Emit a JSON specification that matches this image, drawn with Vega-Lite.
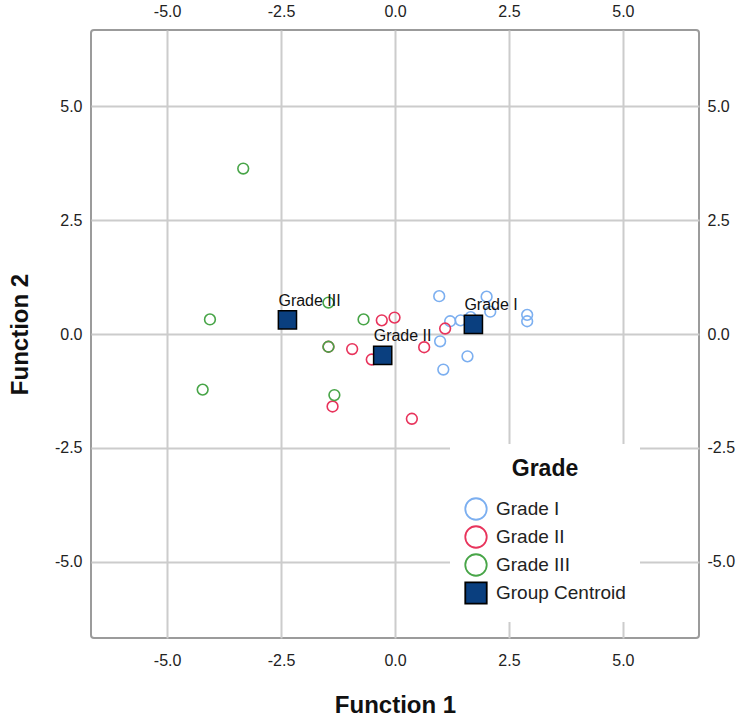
{
  "$schema": "https://vega.github.io/schema/vega-lite/v6.json",
  "width": 608,
  "height": 608,
  "autosize": {"type": "none"},
  "padding": {"left": 91, "top": 30, "right": 40, "bottom": 81},
  "background": "white",
  "config": {
    "view": {"stroke": "#9b9b9b", "strokeWidth": 2, "cornerRadius": 3},
    "font": "Liberation Sans",
    "axis": {
      "labelFont": "Liberation Sans",
      "labelFontSize": 16,
      "labelColor": "#222222",
      "labelExpr": "replace(datum.label, '\u2212', '-')",
      "ticks": false,
      "domain": false,
      "gridColor": "#cccccc",
      "gridWidth": 2,
      "titleFont": "Liberation Sans",
      "titleFontSize": 24,
      "titleFontWeight": "bold",
      "titleColor": "#111111"
    },
    "legend": {
      "symbolSize": 460,
      "symbolStrokeWidth": 1.8,
      "labelFont": "Liberation Sans",
      "labelFontSize": 19,
      "labelColor": "#222222",
      "labelOffset": 8,
      "titleFont": "Liberation Sans",
      "titleFontSize": 23,
      "titleFontWeight": "bold",
      "titleColor": "#111111",
      "titleAnchor": "middle",
      "titlePadding": 16,
      "rowPadding": -2,
      "padding": 14,
      "fillColor": "white",
      "strokeColor": null
    }
  },
  "datasets": {
    "obs": [
      {"f1": 0.97, "f2": 0.83, "series": "Grade I"},
      {"f1": 1.21, "f2": 0.28, "series": "Grade I"},
      {"f1": 1.44, "f2": 0.30, "series": "Grade I"},
      {"f1": 1.66, "f2": 0.37, "series": "Grade I"},
      {"f1": 2.01, "f2": 0.82, "series": "Grade I"},
      {"f1": 2.09, "f2": 0.49, "series": "Grade I"},
      {"f1": 2.90, "f2": 0.42, "series": "Grade I"},
      {"f1": 2.90, "f2": 0.28, "series": "Grade I"},
      {"f1": 0.99, "f2": -0.16, "series": "Grade I"},
      {"f1": 1.59, "f2": -0.49, "series": "Grade I"},
      {"f1": 1.06, "f2": -0.78, "series": "Grade I"},
      {"f1": -0.29, "f2": 0.30, "series": "Grade II"},
      {"f1": -0.01, "f2": 0.36, "series": "Grade II"},
      {"f1": -0.94, "f2": -0.33, "series": "Grade II"},
      {"f1": -0.51, "f2": -0.56, "series": "Grade II"},
      {"f1": 0.64, "f2": -0.29, "series": "Grade II"},
      {"f1": 1.10, "f2": 0.12, "series": "Grade II"},
      {"f1": -1.37, "f2": -1.59, "series": "Grade II"},
      {"f1": 0.37, "f2": -1.86, "series": "Grade II"},
      {"f1": -1.46, "f2": -0.28, "series": "Grade II"},
      {"f1": -3.33, "f2": 3.63, "series": "Grade III"},
      {"f1": -4.06, "f2": 0.32, "series": "Grade III"},
      {"f1": -1.46, "f2": 0.69, "series": "Grade III"},
      {"f1": -0.69, "f2": 0.32, "series": "Grade III"},
      {"f1": -4.22, "f2": -1.22, "series": "Grade III"},
      {"f1": -1.33, "f2": -1.34, "series": "Grade III"},
      {"f1": -1.46, "f2": -0.28, "series": "Grade III"}
    ],
    "cent": [
      {"f1": 1.72, "f2": 0.21, "series": "Group Centroid", "label": "Grade I"},
      {"f1": -0.27, "f2": -0.47, "series": "Group Centroid", "label": "Grade II"},
      {"f1": -2.36, "f2": 0.31, "series": "Group Centroid", "label": "Grade III"}
    ]
  },
  "layer": [
    {
      "data": {"name": "obs"},
      "mark": {"type": "point", "size": 115, "strokeWidth": 1.6, "opacity": 1},
      "encoding": {
        "x": {"field": "f1", "type": "quantitative",
          "scale": {"domain": [-6.67, 6.67], "nice": false, "zero": false},
          "axis": {"orient": "bottom", "values": [-5, -2.5, 0, 2.5, 5], "format": ".1f", "title": "Function 1", "labelPadding": 14, "titlePadding": 25, "grid": true}},
        "y": {"field": "f2", "type": "quantitative",
          "scale": {"domain": [-6.67, 6.67], "nice": false, "zero": false},
          "axis": {"orient": "left", "values": [-5, -2.5, 0, 2.5, 5], "format": ".1f", "title": "Function 2", "labelPadding": 9, "titlePadding": 22, "grid": true}},
        "stroke": {"field": "series", "type": "nominal",
          "scale": {"domain": ["Grade I", "Grade II", "Grade III", "Group Centroid"], "range": ["#7CAFF0", "#E8345C", "#48A548", "#000000"]},
          "legend": {"title": "Grade", "orient": "none", "legendX": 359, "legendY": 414}},
        "fill": {"field": "series", "type": "nominal",
          "scale": {"domain": ["Grade I", "Grade II", "Grade III", "Group Centroid"], "range": ["transparent", "transparent", "transparent", "#0A3F7F"]},
          "legend": {"title": "Grade", "orient": "none", "legendX": 359, "legendY": 414}},
        "shape": {"field": "series", "type": "nominal",
          "scale": {"domain": ["Grade I", "Grade II", "Grade III", "Group Centroid"], "range": ["circle", "circle", "circle", "square"]},
          "legend": {"title": "Grade", "orient": "none", "legendX": 359, "legendY": 414}}
      }
    },
    {
      "data": {"name": "cent"},
      "mark": {"type": "point", "size": 330, "strokeWidth": 1.5, "opacity": 1},
      "encoding": {
        "x": {"field": "f1", "type": "quantitative",
          "axis": {"orient": "top", "values": [-5, -2.5, 0, 2.5, 5], "format": ".1f", "title": null, "labelPadding": 11, "grid": false}},
        "y": {"field": "f2", "type": "quantitative",
          "axis": {"orient": "right", "values": [-5, -2.5, 0, 2.5, 5], "format": ".1f", "title": null, "labelPadding": 8, "grid": false}},
        "stroke": {"field": "series", "type": "nominal",
          "legend": {"title": "Grade", "orient": "none", "legendX": 359, "legendY": 414}},
        "fill": {"field": "series", "type": "nominal",
          "legend": {"title": "Grade", "orient": "none", "legendX": 359, "legendY": 414}},
        "shape": {"field": "series", "type": "nominal",
          "legend": {"title": "Grade", "orient": "none", "legendX": 359, "legendY": 414}}
      }
    },
    {
      "data": {"name": "cent"},
      "mark": {"type": "text", "align": "left", "baseline": "alphabetic", "dx": -9, "dy": -14, "fontSize": 16, "font": "Liberation Sans", "color": "#111111"},
      "encoding": {
        "x": {"field": "f1", "type": "quantitative", "axis": null},
        "y": {"field": "f2", "type": "quantitative", "axis": null},
        "text": {"field": "label"}
      }
    }
  ],
  "resolve": {"axis": {"x": "independent", "y": "independent"}}
}
